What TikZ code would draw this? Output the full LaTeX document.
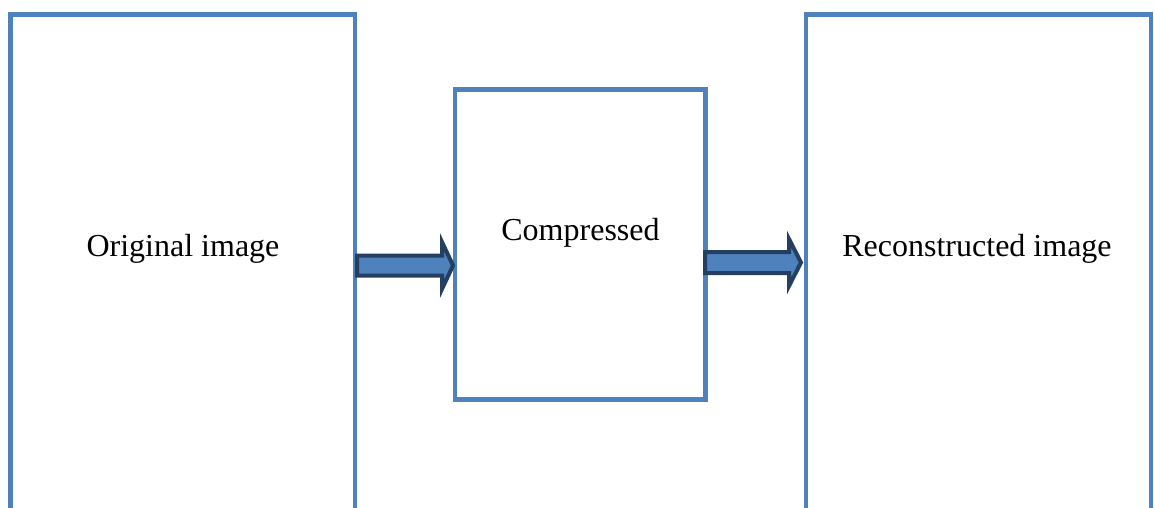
\documentclass[tikz,border=0pt]{standalone}
\usepackage{fontspec}
\setmainfont{Liberation Serif}
\definecolor{boxblue}{HTML}{4F81BD}
\definecolor{arrowdark}{HTML}{243F60}
\begin{document}
\begin{tikzpicture}[x=1pt,y=-1pt,
  panel/.style={draw=boxblue, line width=4.5pt, fill=none, inner sep=0pt, outer sep=0pt, anchor=north west},
  label/.style={font=\fontsize{32}{38}\selectfont, anchor=base, inner sep=0pt},
  blockarrow/.style={draw=arrowdark, fill=boxblue, line width=4pt, line join=miter}]
\useasboundingbox (0,0) rectangle (1154,508);
\clip (0,0) rectangle (1154,508);
\fill[white] (0,0) rectangle (1154,508);
% panels
\node[panel, minimum width=344.5pt, minimum height=520pt] (orig) at (10.5,14.5) {};
\node[panel, minimum width=250.5pt, minimum height=310pt] (comp) at (455,89.5) {};
\node[panel, minimum width=345pt, minimum height=520pt] (recon) at (806,14.5) {};
% arrows
\draw[blockarrow] (357,255.5) -- (442,255.5) -- (442,242) -- (453,265.5) -- (442,289) -- (442,275.5) -- (357,275.5) -- cycle;
\draw[blockarrow] (705,252) -- (789,252) -- (789,239) -- (801,262.5) -- (789,286) -- (789,273) -- (705,273) -- cycle;
% texts
\node[label] (torig) at (183,256) {Original image};
\node[label] (tcomp) at (580.5,240) {Compressed};
\node[label] (trecon) at (977,256) {Reconstructed image};
\end{tikzpicture}
\end{document}
